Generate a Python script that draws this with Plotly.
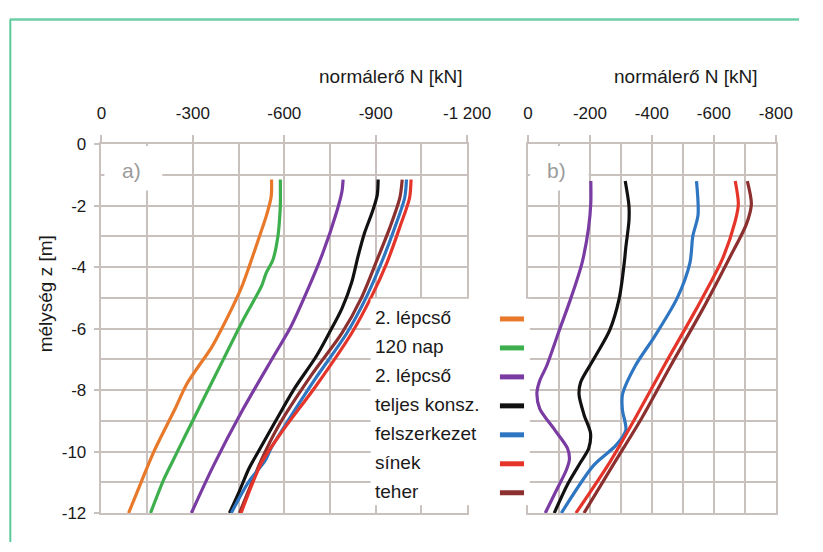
import plotly.graph_objects as go

W, H = 823, 552

# ---------------- data ----------------
# panel a) normal force N [kN] vs depth z [m]
a_orange_z = [-1.15, -1.7, -2.3, -2.75, -4.0, -4.6, -5.3, -6.05, -6.6, -7.8, -8.6, -10.0, -11.0, -12.0]
a_orange_N = [-558, -557, -542, -527, -484, -462, -430, -392, -362, -280, -242, -172, -130, -89]

a_green_z = [-1.15, -2.0, -2.5, -3.0, -3.75, -4.2, -4.6, -5.75, -7.0, -8.25, -9.5, -10.35, -10.9, -12.0]
a_green_N = [-587, -587, -584, -579, -563, -540, -526, -463, -400, -337, -274, -232, -205, -161]

a_purple_z = [-1.15, -1.55, -2.2, -3.55, -4.8, -5.95, -6.9, -8.65, -10.45, -12.0]
a_purple_N = [-793, -789, -772, -726, -674, -621, -565, -463, -368, -295]

a_black_z = [-1.15, -1.65, -2.2, -2.9, -3.65, -4.5, -5.35, -6.15, -6.9, -8.0, -9.0, -10.0, -10.55, -11.3, -12.0]
a_black_N = [-908, -905, -889, -863, -842, -821, -789, -747, -705, -630, -572, -515, -484, -452, -420]

a_blue_z = [-1.15, -1.75, -2.7, -3.8, -5.0, -6.15, -7.7, -9.0, -9.9, -10.3, -11.0, -12.0]
a_blue_N = [-1001, -995, -963, -921, -868, -805, -697, -612, -556, -537, -482, -426]

a_red_z = [-1.15, -1.75, -2.7, -3.85, -5.0, -6.15, -7.85, -9.4, -10.35, -12.0]
a_red_N = [-1016, -1011, -979, -937, -884, -821, -705, -589, -526, -458]

a_brown_z = [-1.15, -1.75, -2.7, -3.75, -5.0, -6.15, -7.5, -9.2, -10.25, -12.0]
a_brown_N = [-987, -979, -947, -905, -853, -789, -690, -579, -526, -453]

# panel b)
b_purple_z = [-1.2, -1.9, -2.7, -3.85, -5.0, -6.15, -7.2, -7.7, -8.1, -8.6, -9.3, -9.9, -10.25, -10.6, -11.3, -12.0]
b_purple_N = [-203, -203, -196, -175, -139, -98, -61, -38, -29, -38, -87, -128, -134, -124, -90, -56]

b_black_z = [-1.2, -2.0, -2.5, -3.35, -3.85, -5.0, -6.05, -7.0, -7.75, -8.15, -8.8, -9.4, -9.9, -10.35, -11.05, -12.0]
b_black_N = [-314, -326, -326, -316, -311, -295, -264, -212, -170, -165, -181, -202, -196, -170, -129, -85]

b_blue_z = [-1.2, -2.3, -3.0, -3.85, -5.0, -6.25, -7.2, -8.15, -8.65, -9.3, -9.8, -10.45, -12.0]
b_blue_N = [-544, -549, -532, -523, -482, -409, -347, -305, -305, -316, -284, -212, -108]

b_red_z = [-1.2, -1.95, -2.5, -3.75, -5.35, -7.2, -8.9, -10.35, -12.0]
b_red_N = [-669, -679, -669, -627, -544, -440, -347, -264, -155]

b_brown_z = [-1.2, -1.95, -2.6, -3.75, -5.35, -7.2, -8.9, -10.45, -12.0]
b_brown_N = [-708, -721, -705, -648, -565, -461, -368, -274, -181]

legend_labels = ["2. lépcső", "120 nap", "2. lépcső", "teljes konsz.", "felszerkezet", "sínek", "teher"]

a_xticks = [0, -300, -600, -900, -1200]
a_xticktext = ["0", "-300", "-600", "-900", "-1 200"]
a_xminor = [-150, -450, -750, -1050]
b_xticks = [0, -200, -400, -600, -800]
b_xticktext = ["0", "-200", "-400", "-600", "-800"]
b_xminor = [-100, -300, -500, -700]
y_ticks = [0, -2, -4, -6, -8, -10, -12]
y_minor = [-1, -3, -5, -7, -9, -11]

x_title = "normálerő N [kN]"
y_title = "mélység z [m]"

# ---------------- style ----------------
C = {
    "orange": "#e8782a",
    "green": "#3daf4c",
    "purple": "#7a3ca3",
    "black": "#111111",
    "blue": "#2f76c2",
    "red": "#e5352a",
    "brown": "#8c2f2f",
}
legend_colors = [C["orange"], C["green"], C["purple"], C["black"], C["blue"], C["red"], C["brown"]]
GRID = "#c9c1bd"
FONT = "Liberation Sans, Arial, Helvetica, sans-serif"
LW = 3.2


def px(x):
    return x / W


def py(y):
    return 1 - y / H


fig = go.Figure()

series_a = [
    (a_orange_N, a_orange_z, C["orange"]),
    (a_green_N, a_green_z, C["green"]),
    (a_purple_N, a_purple_z, C["purple"]),
    (a_black_N, a_black_z, C["black"]),
    (a_brown_N, a_brown_z, C["brown"]),
    (a_blue_N, a_blue_z, C["blue"]),
    (a_red_N, a_red_z, C["red"]),
]
for n, z, c in series_a:
    fig.add_trace(go.Scatter(x=n, y=z, mode="lines", xaxis="x", yaxis="y",
                             line=dict(color=c, width=LW, shape="spline", smoothing=0.8),
                             showlegend=False, hoverinfo="skip"))

series_b = [
    (b_purple_N, b_purple_z, C["purple"]),
    (b_black_N, b_black_z, C["black"]),
    (b_blue_N, b_blue_z, C["blue"]),
    (b_red_N, b_red_z, C["red"]),
    (b_brown_N, b_brown_z, C["brown"]),
]
for n, z, c in series_b:
    fig.add_trace(go.Scatter(x=n, y=z, mode="lines", xaxis="x2", yaxis="y2",
                             line=dict(color=c, width=LW, shape="spline", smoothing=0.8),
                             showlegend=False, hoverinfo="skip"))

ydom = [py(522), py(140)]
common_x = dict(side="top", showline=True, mirror=True, linecolor=GRID, linewidth=1.5,
                showgrid=True, gridcolor=GRID, gridwidth=1.5, zeroline=False,
                ticks="outside", ticklen=7, tickcolor=GRID, tickwidth=1.5,
                tickfont=dict(family=FONT, size=17, color="#1a1a1a"),
                ticklabelstandoff=10, fixedrange=True)
common_y = dict(range=[-12, 0], domain=ydom, showline=True, mirror=True, linecolor=GRID, linewidth=1.5,
                showgrid=True, gridcolor=GRID, gridwidth=1.5, zeroline=False, fixedrange=True)

fig.update_layout(
    width=W, height=H,
    margin=dict(l=0, r=0, t=0, b=0),
    paper_bgcolor="white", plot_bgcolor="white",
    showlegend=False,
    xaxis=dict(domain=[px(100), px(479)], range=[0, -1200], anchor="y",
               tickvals=a_xticks, ticktext=a_xticktext,
               minor=dict(tickvals=a_xminor, showgrid=True, gridcolor=GRID, gridwidth=1.5, ticks=""),
               **common_x),
    yaxis=dict(anchor="x", tickvals=y_ticks, ticktext=[str(v) for v in y_ticks],
               ticks="outside", ticklen=6, tickcolor=GRID, tickwidth=1.5,
               tickfont=dict(family=FONT, size=17, color="#1a1a1a"),
               ticklabelstandoff=4,
               minor=dict(tickvals=y_minor, showgrid=True, gridcolor=GRID, gridwidth=1.5, ticks=""),
               **common_y),
    xaxis2=dict(domain=[px(542), px(799)], range=[0, -800], anchor="y2",
                tickvals=b_xticks, ticktext=b_xticktext,
                minor=dict(tickvals=b_xminor, showgrid=True, gridcolor=GRID, gridwidth=1.5, ticks=""),
                **common_x),
    yaxis2=dict(anchor="x2", tickvals=y_ticks, showticklabels=False, ticks="",
                minor=dict(tickvals=y_minor, showgrid=True, gridcolor=GRID, gridwidth=1.5, ticks=""),
                **common_y),
)

shapes = []
# outer green frame (top and left)
shapes.append(dict(type="line", xref="paper", yref="paper", x0=px(5), x1=1.0, y0=py(11), y1=py(11),
                   line=dict(color="#6ccfa6", width=2.5)))
shapes.append(dict(type="line", xref="paper", yref="paper", x0=px(5.5), x1=px(5.5), y0=py(11), y1=0,
                   line=dict(color="#5fc89b", width=2)))
# white backgrounds for panel labels and legend
for x0, x1, y0, y1 in [(103, 163, 142, 188), (544, 605, 142, 188), (379, 544, 300, 514)]:
    shapes.append(dict(type="rect", xref="paper", yref="paper", x0=px(x0), x1=px(x1), y0=py(y1), y1=py(y0),
                       fillcolor="white", line=dict(width=0), layer="above"))
# legend swatches
for i, c in enumerate(legend_colors):
    yy = 321 + 30 * i
    shapes.append(dict(type="line", xref="paper", yref="paper", x0=px(513), x1=px(538), y0=py(yy), y1=py(yy),
                       line=dict(color=c, width=5), layer="above"))
fig.update_layout(shapes=shapes)

ann = []
ann.append(dict(text=x_title, x=px(400), y=py(70), xref="paper", yref="paper", showarrow=False,
                xanchor="center", yanchor="middle", font=dict(family=FONT, size=19, color="#1a1a1a")))
ann.append(dict(text=x_title, x=px(706), y=py(70), xref="paper", yref="paper", showarrow=False,
                xanchor="center", yanchor="middle", font=dict(family=FONT, size=19, color="#1a1a1a")))
ann.append(dict(text=y_title, x=px(42), y=py(295), xref="paper", yref="paper", showarrow=False,
                textangle=-90, xanchor="center", yanchor="middle", font=dict(family=FONT, size=19, color="#1a1a1a")))
ann.append(dict(text="a)", x=px(131), y=py(167), xref="paper", yref="paper", showarrow=False,
                xanchor="center", yanchor="middle", font=dict(family=FONT, size=21, color="#9c9c9c")))
ann.append(dict(text="b)", x=px(572), y=py(167), xref="paper", yref="paper", showarrow=False,
                xanchor="center", yanchor="middle", font=dict(family=FONT, size=21, color="#9c9c9c")))
for i, lab in enumerate(legend_labels):
    ann.append(dict(text=lab, x=px(381), y=py(320 + 30 * i), xref="paper", yref="paper", showarrow=False,
                    xanchor="left", yanchor="middle", font=dict(family=FONT, size=19, color="#1a1a1a")))
fig.update_layout(annotations=ann)

fig.write_html("out.html", config={"displayModeBar": False},
               post_script="document.body.style.margin='0';document.body.style.padding='0';"
                           "document.documentElement.style.overflow='hidden';")
